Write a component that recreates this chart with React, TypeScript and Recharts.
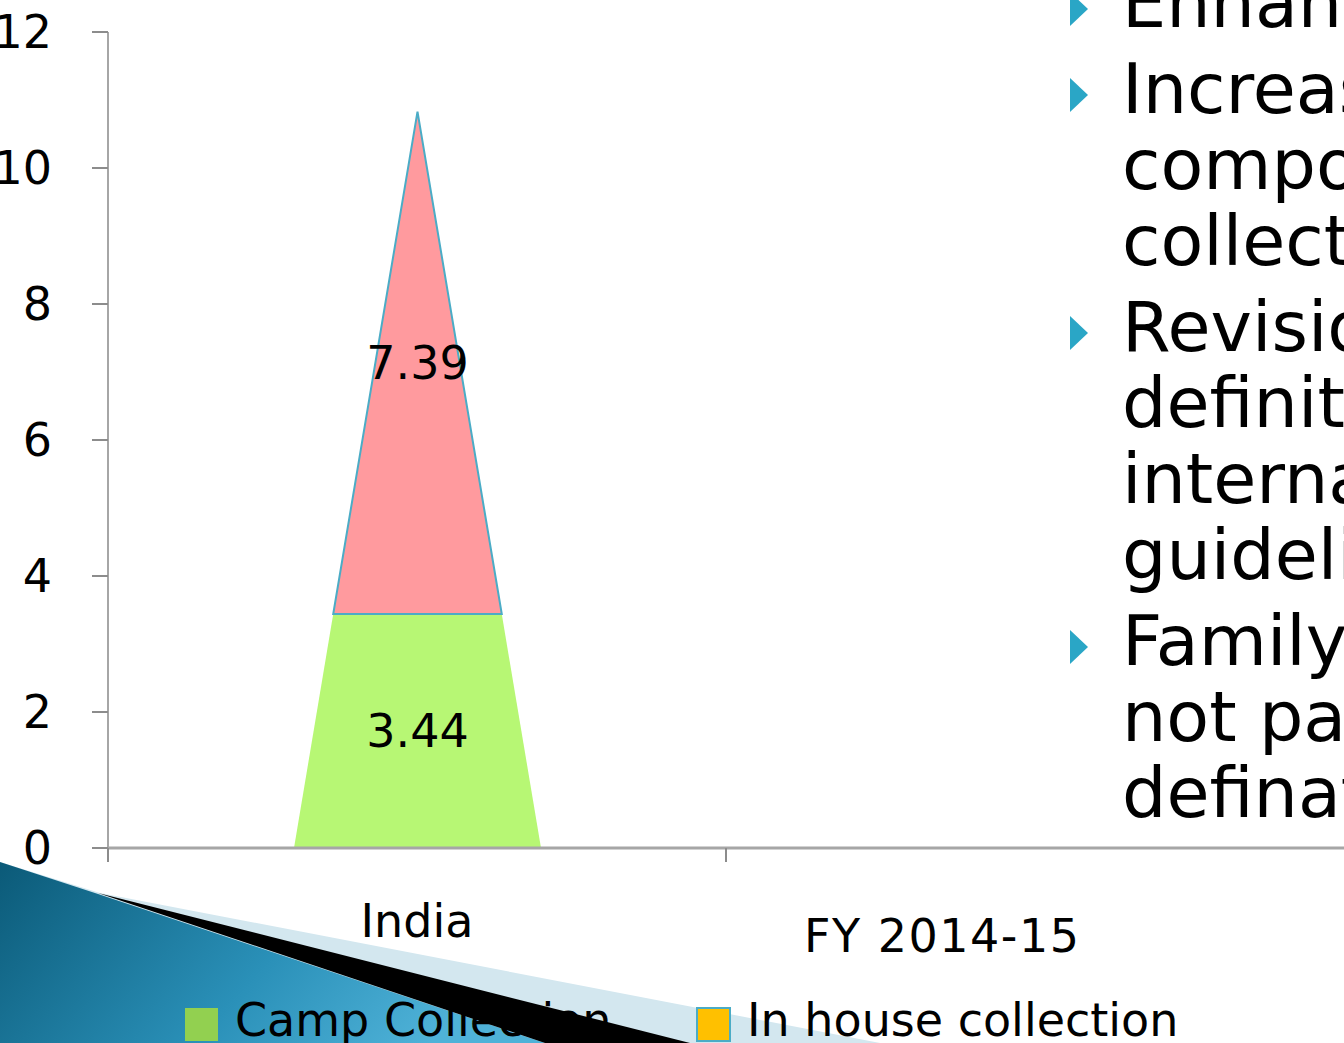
import React from 'react';
import { ComposedChart, Bar, XAxis, YAxis, LabelList, Label } from 'recharts';

const categories = ['India', ''];
const campCollection: (number | null)[] = [3.44, null];
const inHouseCollection: (number | null)[] = [7.39, null];
const yTicks = [0, 2, 4, 6, 8, 10, 12];
const seriesNames = ['Camp Collection', 'In house collection'];
const barColors = ['#B7F774', '#FF9A9E'];
const legendColors = ['#92D050', '#FFC000'];
const xAxisTitle = 'FY 2014-15';
const bulletGroups = [
  ['Enhanced'],
  ['Increased', 'component', 'collection'],
  ['Revision of', 'definition', 'international', 'guidelines'],
  ['Family', 'not part of', 'defination'],
];

const data = categories.map((c, i) => ({
  category: c,
  camp: campCollection[i],
  inhouse: inHouseCollection[i],
}));

const FONT = '"DejaVu Sans", sans-serif';

const pyramidShape = (key: 'camp' | 'inhouse', fill: string, stroke: string | null) => (props: any) => {
  const { x, y, width, height, payload } = props;
  const value = payload[key];
  if (value == null || !height) return null;
  const total = (payload.camp || 0) + (payload.inhouse || 0);
  const ppu = height / value;
  const below = key === 'camp' ? 0 : payload.camp || 0;
  const baseY = y + height + below * ppu;
  const apexY = baseY - total * ppu;
  const cx = x + width / 2;
  const half = width / 2;
  const hw = (py: number) => (half * (py - apexY)) / (baseY - apexY);
  const yb = y + height;
  const pts = [
    [cx - hw(yb), yb],
    [cx + hw(yb), yb],
    [cx + hw(y), y],
    [cx - hw(y), y],
  ]
    .map((p) => p.join(','))
    .join(' ');
  return (
    <polygon
      points={pts}
      fill={fill}
      stroke={stroke || 'none'}
      strokeWidth={stroke ? 2 : 0}
      strokeLinejoin="miter"
    />
  );
};

const XTick = (props: any) => {
  const { x, y, payload, width } = props;
  const band = width / categories.length;
  const xb = x - band / 2;
  return (
    <g>
      <line x1={xb} y1={y} x2={xb} y2={y + 14} stroke="#8C8C8C" strokeWidth={2} />
      <text x={x} y={y + 89} textAnchor="middle" fontFamily={FONT} fontSize={46} fill="#000">
        {payload.value}
      </text>
    </g>
  );
};

const lineHeight = 76;
const groupGap = 10;
const firstBaseline = 27;

function RightText() {
  const items: React.ReactNode[] = [];
  let b = firstBaseline;
  bulletGroups.forEach((g, gi) => {
    if (gi > 0) b += groupGap;
    g.forEach((line, li) => {
      if (li === 0) {
        items.push(
          <polygon
            key={`b${gi}`}
            points={`1070,${b - 35} 1070,${b - 1} 1088,${b - 18}`}
            fill="#2AA6C6"
          />
        );
      }
      items.push(
        <text key={`t${gi}-${li}`} x={1122} y={b} fontFamily={FONT} fontSize={70} fill="#000">
          {line}
        </text>
      );
      b += lineHeight;
    });
  });
  return <g>{items}</g>;
}

export default function App() {
  return (
    <div
      style={{
        position: 'fixed',
        left: 0,
        top: 0,
        width: 1344,
        height: 1043,
        overflow: 'hidden',
        background: '#fff',
      }}
    >
      <div style={{ position: 'absolute', left: 0, top: 0 }}>
        <ComposedChart
          width={1344}
          height={1043}
          data={data}
          margin={{ top: 32, right: 0, bottom: 0, left: 0 }}
          barCategoryGap={0}
        >
          <YAxis
            type="number"
            domain={[0, 12]}
            ticks={yTicks}
            width={108}
            tickSize={16}
            tickMargin={40}
            axisLine={{ stroke: '#A6A6A6', strokeWidth: 2 }}
            tickLine={{ stroke: '#8C8C8C', strokeWidth: 2 }}
            tick={{ fontFamily: FONT, fontSize: 46, fill: '#000' }}
            interval={0}
          />
          <XAxis
            dataKey="category"
            height={195}
            tickSize={0}
            tickMargin={0}
            tickLine={false}
            axisLine={{ stroke: '#A6A6A6', strokeWidth: 3 }}
            tick={<XTick />}
            interval={0}
          >
            <Label
              content={(p: any) => {
                const vb = p.viewBox;
                return (
                  <text
                    x={vb.x + vb.width * 0.675}
                    y={vb.y + 104}
                    textAnchor="middle"
                    fontFamily={FONT}
                    fontSize={46}
                    letterSpacing={1.5}
                    fill="#000"
                  >
                    {xAxisTitle}
                  </text>
                );
              }}
            />
          </XAxis>
          <Bar
            dataKey="camp"
            name={seriesNames[0]}
            stackId="a"
            barSize={247}
            fill={barColors[0]}
            isAnimationActive={false}
            shape={pyramidShape('camp', barColors[0], null)}
          >
            <LabelList
              dataKey="camp"
              position="center"
              fontFamily={FONT}
              fontSize={46}
              fill="#000"
            />
          </Bar>
          <Bar
            dataKey="inhouse"
            name={seriesNames[1]}
            stackId="a"
            barSize={247}
            fill={barColors[1]}
            isAnimationActive={false}
            shape={pyramidShape('inhouse', barColors[1], '#4BACC6')}
          >
            <LabelList
              dataKey="inhouse"
              position="center"
              fontFamily={FONT}
              fontSize={46}
              fill="#000"
            />
          </Bar>
        </ComposedChart>
      </div>
      <svg
        width={1344}
        height={1043}
        style={{ position: 'absolute', left: 0, top: 0, pointerEvents: 'none' }}
      >
        <defs>
          <linearGradient id="teal" x1="0" y1="0" x2="1" y2="0.3">
            <stop offset="0" stopColor="#0B5A78" />
            <stop offset="0.6" stopColor="#2A90B8" />
            <stop offset="1" stopColor="#4FB2D8" />
          </linearGradient>
        </defs>
        <polygon points="0,862 100,893 880,1043 0,1043" fill="#D3E7EF" />
        <polygon points="0,862 98,894 545,1043 0,1043" fill="url(#teal)" />
        <polygon points="98,893 690,1043 545,1043" fill="#000" />
        <RightText />
        {seriesNames.map((n, i) => {
          const sx = i === 0 ? 185 : 697;
          return (
            <g key={n}>
              <rect
                x={sx}
                y={1008}
                width={33}
                height={33}
                fill={legendColors[i]}
                stroke={i === 1 ? '#4BACC6' : 'none'}
                strokeWidth={i === 1 ? 2 : 0}
              />
              <text x={sx + 50} y={1036} fontFamily={FONT} fontSize={46} fill="#000">
                {n}
              </text>
            </g>
          );
        })}
      </svg>
    </div>
  );
}
